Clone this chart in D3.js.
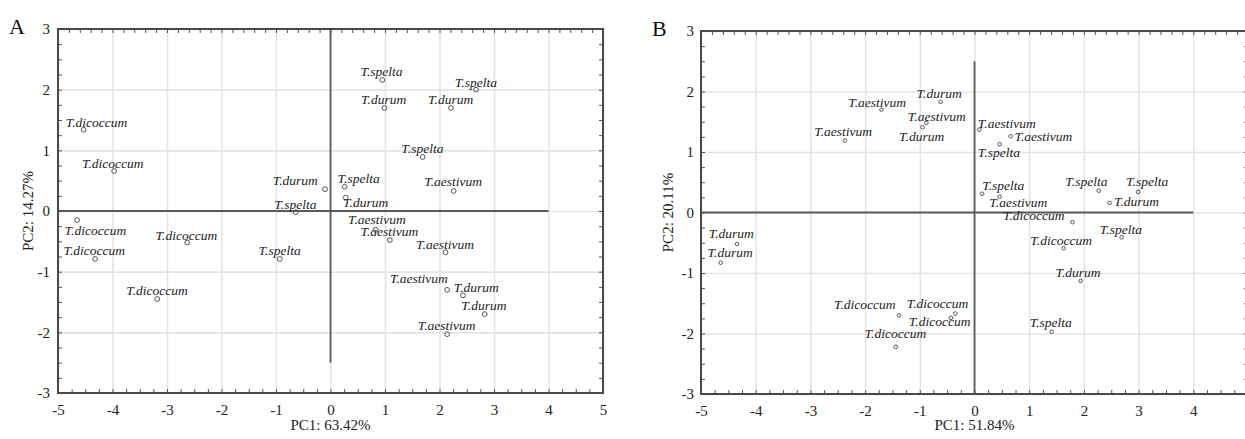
<!DOCTYPE html>
<html lang="en">
<head>
<meta charset="utf-8">
<title>PCA score plots</title>
<script src="https://cdn.jsdelivr.net/npm/d3@7"></script>
<style>
  body { margin: 0; background: #fff; }
  .tick text { font: 15px "Liberation Serif", "Times New Roman", serif; fill: #222; }
  .title { font: 15px "Liberation Serif", "Times New Roman", serif; fill: #222; }
  .panel { font: 22px "Liberation Serif", "Times New Roman", serif; fill: #111; }
  .lbl { font: italic 13.5px "Liberation Serif", "Times New Roman", serif; fill: #222; }
</style>
</head>
<body>
<svg id="chart" width="1245" height="439"></svg>
<script>
var xTicks = [-5, -4, -3, -2, -1, 0, 1, 2, 3, 4, 5];
var yTicks = [-3, -2, -1, 0, 1, 2, 3];

// panel A
var speciesA = ["T.dicoccum","T.dicoccum","T.dicoccum","T.dicoccum","T.dicoccum","T.dicoccum",
  "T.spelta","T.spelta","T.spelta","T.spelta","T.spelta","T.spelta",
  "T.durum","T.durum","T.durum","T.durum","T.durum","T.durum",
  "T.aestivum","T.aestivum","T.aestivum","T.aestivum","T.aestivum","T.aestivum"];
var pc1A = [-4.53, -3.97, -4.65, -4.32, -2.63, -3.18,
  0.95, 2.67, 1.69, 0.26, -0.64, -0.93,
  0.99, 2.21, -0.10, 0.28, 2.43, 2.83,
  2.26, 0.83, 1.09, 2.11, 2.14, 2.14];
var pc2A = [1.34, 0.66, -0.15, -0.79, -0.52, -1.45,
  2.16, 2.00, 0.89, 0.40, -0.02, -0.79,
  1.70, 1.70, 0.36, 0.22, -1.39, -1.70,
  0.33, -0.31, -0.48, -0.68, -1.30, -2.03];
// where each label starts (left end, baseline), in PC units
var labelXA = [-4.86, -4.56, -4.88, -4.90, -3.21, -3.75,
  0.55, 2.28, 1.30, 0.13, -1.03, -1.32,
  0.56, 1.79, -1.06, 0.23, 2.26, 2.40,
  1.72, 0.32, 0.55, 1.57, 1.09, 1.60];
var labelYA = [1.39, 0.71, -0.40, -0.73, -0.47, -1.39,
  2.23, 2.04, 0.96, 0.46, 0.04, -0.73,
  1.77, 1.77, 0.43, 0.07, -1.33, -1.63,
  0.41, -0.21, -0.41, -0.62, -1.18, -1.96];

// panel B
var speciesB = ["T.aestivum","T.aestivum","T.aestivum","T.aestivum","T.aestivum","T.aestivum",
  "T.durum","T.durum","T.durum","T.durum","T.durum","T.durum",
  "T.spelta","T.spelta","T.spelta","T.spelta","T.spelta","T.spelta",
  "T.dicoccum","T.dicoccum","T.dicoccum","T.dicoccum","T.dicoccum","T.dicoccum"];
var pc1B = [-1.70, -2.37, -0.88, 0.09, 0.66, 0.46,
  -0.62, -0.95, 2.47, 1.94, -4.34, -4.64,
  0.46, 0.14, 2.27, 2.99, 2.69, 1.41,
  1.79, 1.63, -0.35, -0.43, -1.38, -1.44];
var pc2B = [1.70, 1.19, 1.48, 1.37, 1.26, 0.26,
  1.83, 1.41, 0.16, -1.13, -0.52, -0.83,
  1.13, 0.31, 0.36, 0.34, -0.41, -1.97,
  -0.16, -0.59, -1.67, -1.74, -1.70, -2.22];
var labelXB = [-2.31, -2.93, -1.22, 0.06, 0.73, 0.27,
  -1.06, -1.38, 2.55, 1.48, -4.86, -4.88,
  0.06, 0.14, 1.66, 2.77, 2.29, 1.01,
  0.52, 1.02, -1.24, -1.20, -2.57, -2.01];
var labelYB = [1.75, 1.26, 1.52, 1.39, 1.19, 0.09,
  1.89, 1.19, 0.10, -1.07, -0.42, -0.73,
  0.92, 0.37, 0.44, 0.44, -0.35, -1.90,
  -0.13, -0.53, -1.58, -1.88, -1.59, -2.08];

var svg = d3.select('#chart');
var plain = function(d){ return String(d); };  // hyphen, not unicode minus

function drawPanel(p) {
  var g = svg.append('g');
  var x = d3.scaleLinear().domain([-5, 5]).range([p.left, p.right]);
  var y = d3.scaleLinear().domain([-3, 3]).range([p.bottom, p.top]);
  var h = p.bottom - p.top, w = p.right - p.left;

  // grid
  g.append('g')
    .attr('transform', 'translate(0,' + p.bottom + ')')
    .call(d3.axisBottom(x).tickValues(xTicks).tickSize(-h).tickFormat(''))
    .call(function(s){ s.select('.domain').remove(); s.selectAll('line').attr('stroke', '#e4e4e4').attr('stroke-width', 1.6); });
  g.append('g')
    .attr('transform', 'translate(' + p.left + ',0)')
    .call(d3.axisLeft(y).tickValues(yTicks).tickSize(-w).tickFormat(''))
    .call(function(s){ s.select('.domain').remove(); s.selectAll('line').attr('stroke', '#e4e4e4').attr('stroke-width', 1.6); });

  // zero lines
  g.append('line')
    .attr('x1', x(-5)).attr('x2', x(4))
    .attr('y1', y(0)).attr('y2', y(0))
    .attr('stroke', '#5a5a5a').attr('stroke-width', 1.8);
  g.append('line')
    .attr('x1', x(0)).attr('x2', x(0))
    .attr('y1', y(p.vTop)).attr('y2', y(p.vBottom))
    .attr('stroke', '#5a5a5a').attr('stroke-width', 1.8);

  // small inward ticks on the frame
  function minor(s) {
    s.select('.domain').remove();
    s.selectAll('line').attr('stroke', '#555').attr('stroke-width', 1);
  }
  g.append('g').attr('transform', 'translate(0,' + p.bottom + ')')
    .call(d3.axisBottom(x).tickValues(d3.range(-5, 5.01, 0.25)).tickSize(-4).tickFormat('')).call(minor);
  g.append('g').attr('transform', 'translate(0,' + p.top + ')')
    .call(d3.axisTop(x).tickValues(d3.range(-5, 5.01, 0.2)).tickSize(-4).tickFormat('')).call(minor);
  g.append('g').attr('transform', 'translate(' + p.left + ',0)')
    .call(d3.axisLeft(y).tickValues(d3.range(-3, 3.01, 0.25)).tickSize(-4).tickFormat('')).call(minor);
  g.append('g').attr('transform', 'translate(' + p.right + ',0)')
    .call(d3.axisRight(y).tickValues(d3.range(-3, 3.01, 0.25)).tickSize(-4).tickFormat('')).call(minor);

  // frame
  g.append('rect')
    .attr('x', p.left).attr('y', p.top).attr('width', w).attr('height', h)
    .attr('fill', 'none').attr('stroke', '#4a4a4a').attr('stroke-width', 2);

  // tick labels
  g.append('g').attr('transform', 'translate(0,' + p.bottom + ')')
    .call(d3.axisBottom(x).tickValues(xTicks).tickSize(0).tickPadding(11).tickFormat(plain))
    .call(function(s){ s.select('.domain').remove(); s.selectAll('text').attr('font-family', null).attr('font-size', null); });
  g.append('g').attr('transform', 'translate(' + p.left + ',0)')
    .call(d3.axisLeft(y).tickValues(yTicks).tickSize(0).tickPadding(p.yPad).tickFormat(plain))
    .call(function(s){ s.select('.domain').remove(); s.selectAll('text').attr('font-family', null).attr('font-size', null); });

  // titles
  g.append('text').attr('class', 'title')
    .attr('x', x(0)).attr('y', 430).attr('text-anchor', 'middle')
    .text(p.xTitle);
  g.append('text').attr('class', 'title')
    .attr('transform', 'translate(' + p.yTitleX + ',' + y(0) + ') rotate(-90)')
    .attr('text-anchor', 'middle')
    .text(p.yTitle);
  g.append('text').attr('class', 'panel')
    .attr('x', p.letterX).attr('y', p.letterY).text(p.letter);

  var rows = p.names.map(function(n, i){
    return { name: n, px: p.pc1[i], py: p.pc2[i], lx: p.lx[i], ly: p.ly[i] };
  });

  g.selectAll('circle.pt').data(rows).enter().append('circle')
    .attr('class', 'pt')
    .attr('cx', function(d){ return x(d.px); })
    .attr('cy', function(d){ return y(d.py); })
    .attr('r', p.r)
    .attr('fill', 'none').attr('stroke', '#555').attr('stroke-width', 1);

  g.selectAll('text.lbl').data(rows).enter().append('text')
    .attr('class', 'lbl')
    .attr('x', function(d){ return x(d.lx); })
    .attr('y', function(d){ return y(d.ly); })
    .text(function(d){ return d.name; });
}

drawPanel({
  left: 58, right: 603, top: 29, bottom: 393, vTop: 3, vBottom: -2.5, yPad: 8, r: 2.4,
  xTitle: 'PC1: 63.42%', yTitle: 'PC2: 14.27%', yTitleX: 33,
  letter: 'A', letterX: 9, letterY: 34,
  names: speciesA, pc1: pc1A, pc2: pc2A, lx: labelXA, ly: labelYA
});
drawPanel({
  left: 701, right: 1248, top: 31, bottom: 394, vTop: 2.5, vBottom: -3, yPad: 7, r: 1.8,
  xTitle: 'PC1: 51.84%', yTitle: 'PC2: 20.11%', yTitleX: 673,
  letter: 'B', letterX: 652, letterY: 36,
  names: speciesB, pc1: pc1B, pc2: pc2B, lx: labelXB, ly: labelYB
});
</script>
</body>
</html>
